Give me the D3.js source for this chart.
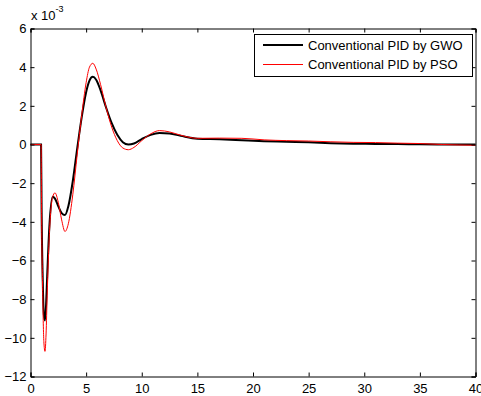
<!DOCTYPE html>
<html>
<head>
<meta charset="utf-8">
<script src="https://cdn.jsdelivr.net/npm/d3@7"></script>
<style>
  body { margin: 0; background: #fff; }
  text { font-family: "Liberation Sans", Arial, sans-serif; }
</style>
</head>
<body>
<div id="chart"></div>
<script>
let width = 481,
    height = 396;

// time axis (s) and responses (x 10^-3)
const time = [0, 0.95, 1.0, 1.1, 1.2, 1.3, 1.4, 1.5, 1.7, 2.0, 2.2, 2.5, 2.8, 3.1, 3.4, 3.8, 4.2, 4.6, 5.0, 5.3, 5.6, 5.9, 6.3, 6.8, 7.3, 7.8, 8.3, 8.8, 9.3, 10, 10.8, 11.6, 12.5, 13.5, 15, 17, 19, 21, 23, 25, 27, 29, 31, 33, 35, 37, 40];
const gwo = [0, 0, -3.5, -7.0, -8.8, -9.1, -8.3, -6.8, -4.2, -2.7, -2.8, -3.2, -3.55, -3.65, -3.2, -1.9, -0.2, 1.4, 2.7, 3.3, 3.5, 3.35, 2.8, 1.9, 1.1, 0.5, 0.12, 0.0, 0.05, 0.28, 0.5, 0.6, 0.57, 0.45, 0.3, 0.27, 0.22, 0.17, 0.14, 0.11, 0.07, 0.04, 0.03, 0.02, 0.01, 0, 0];
const pso = [0, 0, -3.8, -7.8, -10.2, -10.7, -9.8, -7.8, -4.6, -2.7, -2.5, -3.0, -3.9, -4.5, -4.1, -2.6, -0.5, 1.5, 3.2, 4.0, 4.2, 3.9, 3.1, 1.9, 0.9, 0.2, -0.18, -0.27, -0.15, 0.2, 0.55, 0.72, 0.65, 0.48, 0.32, 0.33, 0.32, 0.24, 0.2, 0.18, 0.14, 0.11, 0.1, 0.07, 0.05, 0.0, -0.04];

const seriesNames = ["Conventional PID by GWO", "Conventional PID by PSO"];
const xTicks = [0, 5, 10, 15, 20, 25, 30, 35, 40];
const yTicks = [-12, -10, -8, -6, -4, -2, 0, 2, 4, 6];

let margin = {left: 30.5, right: 5.5, top: 28.5, bottom: 19.5};
const fontSize = 13;

let svg = d3.select("#chart")
  .append("svg")
  .attr("width", width)
  .attr("height", height);

let x = d3.scaleLinear()
  .domain([0, 40])
  .range([margin.left, width - margin.right]);

let y = d3.scaleLinear()
  .domain([-12, 6])
  .range([height - margin.bottom, margin.top]);

const tickLen = 4;

// data lines
let line = d3.line()
  .x((d, i) => x(time[i]))
  .y(d => y(d))
  .curve(d3.curveMonotoneX);

svg.append("path")
  .attr("d", line(gwo))
  .attr("fill", "none")
  .attr("stroke", "black")
  .attr("stroke-width", 2);

svg.append("path")
  .attr("d", line(pso))
  .attr("fill", "none")
  .attr("stroke", "red")
  .attr("stroke-width", 1);

// axes: bottom/left with labels, top/right without
svg.append("g")
  .attr("transform", `translate(0,${y(-12)})`)
  .call(d3.axisBottom(x).tickValues(xTicks).tickSize(-tickLen).tickPadding(7.5));

svg.append("g")
  .attr("transform", `translate(0,${y(6)})`)
  .call(d3.axisTop(x).tickValues(xTicks).tickSize(-tickLen).tickFormat(""));

svg.append("g")
  .attr("transform", `translate(${x(0)},0)`)
  .call(d3.axisLeft(y).tickValues(yTicks).tickSize(-tickLen).tickPadding(4));

svg.append("g")
  .attr("transform", `translate(${x(40)},0)`)
  .call(d3.axisRight(y).tickValues(yTicks).tickSize(-tickLen).tickFormat(""));

svg.selectAll(".tick text")
  .attr("font-size", fontSize)
  .attr("font-family", "Liberation Sans, Arial, sans-serif")
  .attr("fill", "black");

svg.selectAll(".domain, .tick line").attr("stroke", "black");

// exponent label
let expo = svg.append("text")
  .attr("x", 31)
  .attr("y", 20)
  .attr("font-size", fontSize);
expo.append("tspan").text("x 10");
expo.append("tspan").attr("dy", -8).attr("font-size", 9).text("-3");

// legend
let legend = svg.append("g");
legend.append("rect")
  .attr("x", 254.5)
  .attr("y", 34.5)
  .attr("width", 218)
  .attr("height", 42)
  .attr("fill", "white")
  .attr("stroke", "black");

const legendColors = ["black", "red"];
const legendWidths = [2, 1];
seriesNames.forEach((name, i) => {
  let ly = 45 + i * 19.5;
  legend.append("line")
    .attr("x1", 263).attr("x2", 303)
    .attr("y1", ly).attr("y2", ly)
    .attr("stroke", legendColors[i])
    .attr("stroke-width", legendWidths[i]);
  legend.append("text")
    .attr("x", 308)
    .attr("y", ly + 4.5)
    .attr("font-size", fontSize)
    .text(name);
});
</script>
</body>
</html>
